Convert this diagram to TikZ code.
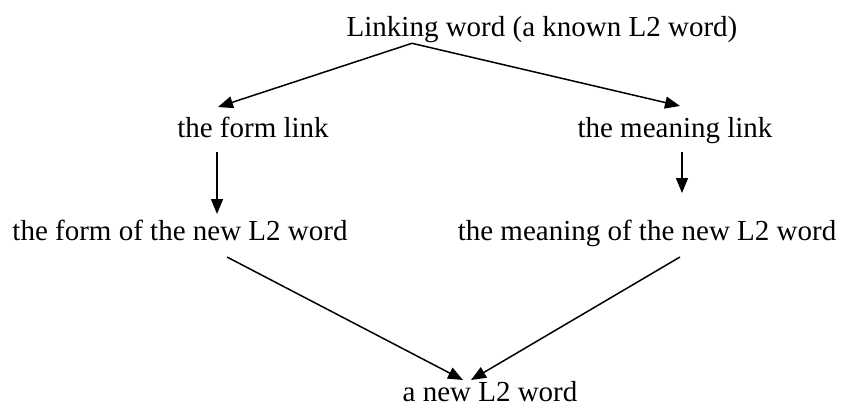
\documentclass[tikz,border=0pt]{standalone}
\usepackage{fontspec}
\setmainfont{Liberation Serif}
\usetikzlibrary{arrows.meta}
\begin{document}
\begin{tikzpicture}[x=1pt,y=-1pt,
  lbl/.style={anchor=base,inner sep=0pt,outer sep=0pt,font=\fontsize{29}{34}\selectfont},
  arr/.style={line width=1.5pt,-{Triangle[length=15pt,width=12pt]}}]
\useasboundingbox (0,0) rectangle (845,409);
\node[lbl] (top) at (542,37) {Linking word (a known L2 word)};
\node[lbl] (fl) at (253,137) {the form link};
\node[lbl] (ml) at (675,137) {the meaning link};
\node[lbl] (ff) at (180,240) {the form of the new L2 word};
\node[lbl] (mf) at (647,240) {the meaning of the new L2 word};
\node[lbl] (nw) at (490,401) {a new L2 word};
\draw[arr] ([shift={(-130,6.3)}]top.base) -- ([shift={(-35,-30)}]fl.base);
\draw[arr] ([shift={(-130,6.3)}]top.base) -- ([shift={(5,-31)}]ml.base);
\draw[arr] ([shift={(-36,15)}]fl.base) -- ([shift={(37,-26)}]ff.base);
\draw[arr] ([shift={(7,15)}]ml.base) -- ([shift={(35,-47)}]mf.base);
\draw[arr] ([shift={(47,17)}]ff.base) -- ([shift={(-27,-21)}]nw.base);
\draw[arr] ([shift={(33,17)}]mf.base) -- ([shift={(-19,-21)}]nw.base);
\end{tikzpicture}
\end{document}
